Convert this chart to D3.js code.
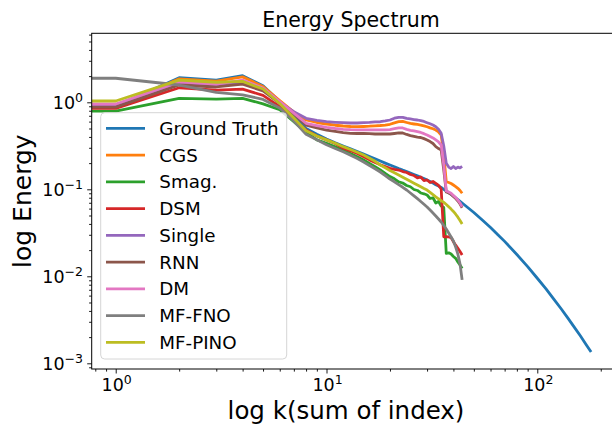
<!DOCTYPE html>
<html>
<head>
<meta charset="utf-8">
<script src="https://cdn.jsdelivr.net/npm/d3@7"></script>
<style>
  body { margin: 0; background: #fff; }
  svg { display: block; }
  text { font-family: "DejaVu Sans", sans-serif; fill: #000; }
</style>
</head>
<body>
<svg id="chart" width="612" height="430"></svg>
<script>
// Wavenumber index (sum of index) for the model runs and the reference spectrum
const kModel = [0,1,2,3,4,5,6,7,8,9,10,11,12,13,14,15,16,17,18,19,20,21,22,23,24,25,26,27,28,29,30,31,32,33,34,35,36,37,38,39,40,41,42,43,44];
const kTruth = [0,1,2,3,4,5,6,7,8,9,10,11,12,13,14,15,16,17,18,19,20,21,22,23,24,25,26,27,28,29,30,31,32,33,34,35,36,37,38,39,40,41,42,43,44,
                50,55,60,65,70,80,90,100,110,120,130,140,150,160,170,180];

// Energy per wavenumber
const groundTruth = [0.90,0.90,1.92,1.80,2.02,1.55,1.02,0.70,0.50,0.43,0.379,0.343,0.315,0.292,0.272,0.254,0.238,0.224,0.211,0.200,
  0.190,0.1815,0.173,0.166,0.160,0.154,0.148,0.1425,0.1375,0.1327,0.128,0.123,0.118,0.113,0.109,0.105,0.100,0.0956,0.0914,0.0874,
  0.0838,0.0798,0.0763,0.0728,0.0696,
  0.0541,0.0441,0.0364,0.0301,0.0252,0.0178,0.01293,0.0095,0.00716,0.00544,0.00421,0.00328,0.00259,0.00207,0.00166,0.00135];
const cgs = [0.90,0.90,1.86,1.75,1.96,1.52,1.05,0.77,0.626,0.586,0.563,0.545,0.534,0.527,0.524,0.527,0.531,0.537,0.541,0.548,
  0.559,0.581,0.598,0.602,0.586,0.571,0.563,0.556,0.548,0.537,0.524,0.509,0.496,0.480,0.456,0.421,0.248,0.1223,0.1197,0.1166,
  0.1121,0.1076,0.1027,0.0969,0.0900];
const smag = [0.79,0.79,1.11,1.09,1.11,0.96,0.82,0.60,0.45,0.37,0.338,0.308,0.283,0.258,0.2365,0.217,0.198,0.182,0.167,0.152,
  0.140,0.132,0.122,0.118,0.1107,0.107,0.0995,0.0969,0.0907,0.0888,0.086,0.0784,0.0799,0.0696,0.0724,0.0643,0.0618,0.0183,0.0186,0.0180,
  0.0169,0.0161,0.0146,0.0135,0.0123];
const dsm = [0.853,0.853,1.47,1.38,1.42,1.20,0.89,0.64,0.48,0.41,0.37,0.336,0.296,0.277,0.258,0.237,0.218,0.204,0.191,0.182,
  0.174,0.169,0.1665,0.160,0.156,0.148,0.144,0.135,0.1385,0.126,0.128,0.1197,0.123,0.117,0.1107,0.1008,0.0285,0.0285,0.0284,0.0279,
  0.0250,0.0228,0.0210,0.0193,0.0176];
const single = [0.93,0.93,1.65,1.55,1.70,1.42,1.00,0.78,0.654,0.618,0.598,0.589,0.583,0.578,0.578,0.583,0.589,0.597,0.598,0.61,
  0.626,0.656,0.672,0.672,0.652,0.643,0.634,0.626,0.614,0.602,0.583,0.566,0.548,0.524,0.49,0.44,0.315,0.199,0.180,0.173,
  0.183,0.173,0.180,0.176,0.183];
const rnn = [0.88,0.88,1.58,1.50,1.62,1.35,0.97,0.73,0.548,0.507,0.480,0.462,0.447,0.440,0.438,0.438,0.436,0.432,0.432,0.432,
  0.432,0.438,0.444,0.444,0.427,0.415,0.407,0.399,0.394,0.382,0.369,0.354,0.336,0.309,0.294,0.283,0.1666,0.0931,0.0907,0.0876,
  0.0826,0.0784,0.0734,0.0678,0.0614];
const dm = [0.956,0.956,1.72,1.62,1.80,1.46,1.02,0.75,0.574,0.541,0.516,0.500,0.489,0.484,0.483,0.483,0.483,0.483,0.483,0.483,
  0.486,0.497,0.507,0.507,0.489,0.477,0.468,0.459,0.450,0.436,0.421,0.404,0.389,0.369,0.350,0.323,0.190,0.0956,0.0931,0.090,
  0.0849,0.0804,0.0753,0.0696,0.0631];
const mfFno = [1.89,1.89,1.58,1.30,1.22,1.08,0.86,0.61,0.43,0.37,0.325,0.295,0.270,0.247,0.226,0.206,0.1877,0.172,0.158,0.144,
  0.1313,0.122,0.113,0.1055,0.0982,0.0907,0.084,0.078,0.0724,0.0672,0.0626,0.0578,0.0534,0.0493,0.0456,0.0421,0.0384,0.035,0.0315,0.0283,
  0.0255,0.0217,0.018,0.0138,0.0091];
const mfPino = [1.035,1.035,1.80,1.70,1.74,1.42,0.97,0.66,0.47,0.41,0.37,0.338,0.309,0.287,0.267,0.248,0.228,0.210,0.190,0.1767,
  0.1644,0.1548,0.146,0.1377,0.1303,0.1236,0.1175,0.1121,0.1071,0.1021,0.098,0.0921,0.0869,0.082,0.0778,0.0742,0.0709,0.0669,0.0629,0.0592,
  0.0556,0.0517,0.0478,0.0439,0.040];

const seriesNames  = ["Ground Truth", "CGS", "Smag.", "DSM", "Single", "RNN", "DM", "MF-FNO", "MF-PINO"];
const seriesValues = [groundTruth, cgs, smag, dsm, single, rnn, dm, mfFno, mfPino];
const seriesK      = [kTruth, kModel, kModel, kModel, kModel, kModel, kModel, kModel, kModel];
const seriesColors = ["#1f77b4", "#ff7f0e", "#2ca02c", "#d62728", "#9467bd", "#8c564b", "#e377c2", "#7f7f7f", "#bcbd22"];

const xMajorTicks = [1, 10, 100];
const yMajorTicks = [1, 0.1, 0.01, 0.001];

// ---- layout ----
const plot = { left: 91.7, right: 615, top: 33.3, bottom: 369 };
const xLimits = [0.7693, 233.7];
const yLimits = [8.6e-4, 6.21];

const svg = d3.select("#chart");

const x = d3.scaleLog().domain(xLimits).range([plot.left, plot.right]).clamp(true);
const y = d3.scaleLog().domain(yLimits).range([plot.bottom, plot.top]);

svg.append("defs").append("clipPath").attr("id", "plot-clip")
  .append("rect")
  .attr("x", plot.left).attr("y", plot.top)
  .attr("width", plot.right - plot.left).attr("height", plot.bottom - plot.top);

// ---- lines ----
const lineGroup = svg.append("g").attr("clip-path", "url(#plot-clip)");
seriesNames.forEach((name, i) => {
  const pts = seriesK[i].map((k, j) => [k, seriesValues[i][j]]);
  const line = d3.line().x(d => x(d[0])).y(d => y(d[1]));
  lineGroup.append("path")
    .datum(pts)
    .attr("d", line)
    .attr("fill", "none")
    .attr("stroke", seriesColors[i])
    .attr("stroke-width", 2.8)
    .attr("stroke-linejoin", "round")
    .attr("stroke-linecap", "butt");
});

// ---- minor tick positions (2..9 per decade inside the limits) ----
function minorTicks(lim) {
  const out = [];
  for (let e = Math.floor(Math.log10(lim[0])); e <= Math.ceil(Math.log10(lim[1])); e++) {
    for (let m = 2; m <= 9; m++) {
      const v = m * Math.pow(10, e);
      if (v >= lim[0] && v <= lim[1]) out.push(v);
    }
  }
  return out;
}

// ---- axes ----
const xAxisMajor = d3.axisBottom(x).tickValues(xMajorTicks).tickSize(4.5).tickFormat("");
const xAxisMinor = d3.axisBottom(x).tickValues(minorTicks(xLimits)).tickSize(2.6).tickFormat("");
const yAxisMajor = d3.axisLeft(y).tickValues(yMajorTicks).tickSize(4.5).tickFormat("");
const yAxisMinor = d3.axisLeft(y).tickValues(minorTicks(yLimits)).tickSize(2.6).tickFormat("");

function styleAxis(g) {
  g.select(".domain").remove();
  g.selectAll(".tick line").attr("stroke", "#000").attr("stroke-width", 0.9);
}
svg.append("g").attr("transform", `translate(0,${plot.bottom})`).call(xAxisMajor).call(styleAxis);
svg.append("g").attr("transform", `translate(0,${plot.bottom})`).call(xAxisMinor).call(styleAxis);
svg.append("g").attr("transform", `translate(${plot.left},0)`).call(yAxisMajor).call(styleAxis);
svg.append("g").attr("transform", `translate(${plot.left},0)`).call(yAxisMinor).call(styleAxis);

// frame
svg.append("rect")
  .attr("x", plot.left).attr("y", plot.top)
  .attr("width", plot.right - plot.left).attr("height", plot.bottom - plot.top)
  .attr("fill", "none").attr("stroke", "#000").attr("stroke-width", 1);

// power-of-ten tick labels
function powLabel(sel, v) {
  const e = Math.round(Math.log10(v));
  sel.append("tspan").text("10");
  sel.append("tspan").attr("dy", -7.5).attr("font-size", 12.5).text(String(e).replace("-", "\u2212"));
}
xMajorTicks.forEach(v => {
  const t = svg.append("text")
    .attr("x", x(v) + 1).attr("y", 391)
    .attr("text-anchor", "middle").attr("font-size", 17.5);
  powLabel(t, v);
});
yMajorTicks.forEach(v => {
  const t = svg.append("text")
    .attr("x", 83).attr("y", y(v) + 6.8)
    .attr("text-anchor", "end").attr("font-size", 17.5);
  powLabel(t, v);
});

// ---- titles ----
svg.append("text")
  .attr("x", 351).attr("y", 27)
  .attr("text-anchor", "middle").attr("font-size", 20.5)
  .text("Energy Spectrum");
svg.append("text")
  .attr("x", 346).attr("y", 419)
  .attr("text-anchor", "middle").attr("font-size", 24.5)
  .text("log k(sum of index)");
svg.append("text")
  .attr("transform", `translate(31,${(plot.top + plot.bottom) / 2}) rotate(-90)`)
  .attr("text-anchor", "middle").attr("font-size", 25)
  .text("log Energy");

// ---- legend ----
const legend = svg.append("g");
legend.append("rect")
  .attr("x", 100.7).attr("y", 112.7).attr("width", 186).attr("height", 246.3)
  .attr("rx", 4).attr("fill", "#fff").attr("fill-opacity", 0.8)
  .attr("stroke", "#d6d6d6").attr("stroke-width", 1);
seriesNames.forEach((name, i) => {
  const ly = 128.3 + i * 26.75;
  legend.append("line")
    .attr("x1", 106).attr("x2", 145).attr("y1", ly).attr("y2", ly)
    .attr("stroke", seriesColors[i]).attr("stroke-width", 2.8);
  legend.append("text")
    .attr("x", 159.3).attr("y", ly + 6.5)
    .attr("font-size", 18.3)
    .text(name);
});
</script>
</body>
</html>
